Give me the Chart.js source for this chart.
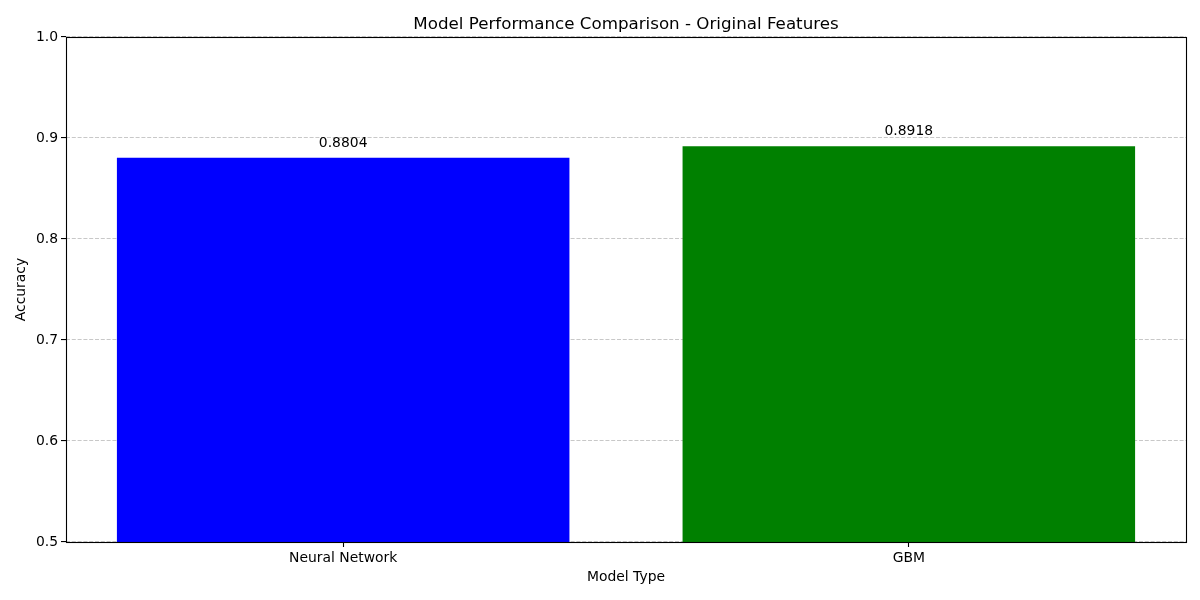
<!DOCTYPE html>
<html>
<head>
<meta charset="utf-8">
<script src="https://cdn.jsdelivr.net/npm/chart.js@4.4.1/dist/chart.umd.min.js"></script>
<style>
html,body{margin:0;padding:0;background:#fff;}
#wrap{width:1200px;height:600px;position:relative;}
</style>
</head>
<body>
<div id="wrap"><canvas id="c" width="1200" height="600"></canvas></div>
<script>
const categories = ['Neural Network', 'GBM'];
const accuracy = [0.8804, 0.8918];
const barColors = ['#0000ff', '#008000'];
const yTicks = [0.5, 0.6, 0.7, 0.8, 0.9, 1.0];

const FONT = 'DejaVu Sans';

const overlay = {
  id: 'overlay',
  afterDraw(chart) {
    const ctx = chart.ctx;
    const a = chart.chartArea;
    ctx.save();
    const meta = chart.getDatasetMeta(0);
    ctx.fillStyle = '#000';
    ctx.font = '13.9px "' + FONT + '"';
    ctx.textAlign = 'center';
    ctx.textBaseline = 'middle';
    meta.data.forEach((bar, i) => {
      ctx.fillText(accuracy[i].toFixed(4), bar.x, bar.y - 14.5);
    });
    ctx.strokeStyle = '#000';
    ctx.lineWidth = 1.1;
    ctx.strokeRect(Math.round(a.left) + 0.5, Math.round(a.top) + 0.5,
                   Math.round(a.right - a.left), Math.round(a.bottom - a.top));
    ctx.restore();
  }
};

new Chart(document.getElementById('c'), {
  type: 'bar',
  data: {
    datasets: [{
      data: accuracy.map((v, i) => ({ x: i, y: v })),
      backgroundColor: barColors,
      borderWidth: 0,
      barPercentage: 0.8,
      categoryPercentage: 1.0
    }]
  },
  options: {
    responsive: false,
    animation: false,
    devicePixelRatio: 1,
    layout: { padding: { left: 0, right: 14, top: 0, bottom: 0 } },
    plugins: {
      legend: { display: false },
      tooltip: { enabled: false },
      title: {
        display: true,
        fullSize: false,
        text: 'Model Performance Comparison - Original Features',
        color: '#000',
        font: { family: FONT, size: 16.7, weight: 'normal', lineHeight: 1.2 },
        padding: { top: 15, bottom: 2 }
      }
    },
    scales: {
      x: {
        type: 'linear',
        min: -0.49,
        max: 1.49,
        offset: false,
        afterBuildTicks(scale) { scale.ticks = categories.map((c, i) => ({ value: i })); },
        grid: {
          display: true,
          offset: false,
          drawOnChartArea: false,
          drawTicks: true,
          tickLength: 5,
          tickColor: '#000',
          tickWidth: 1.1
        },
        border: { display: false },
        ticks: {
          color: '#000',
          padding: 3,
          font: { family: FONT, size: 13.9 },
          callback: v => categories[v]
        },
        title: {
          display: true,
          text: 'Model Type',
          color: '#000',
          font: { family: FONT, size: 13.9, lineHeight: 1.2 },
          padding: { top: 0, bottom: 14.7 }
        },
        afterFit(scale) { scale.height = 58; }
      },
      y: {
        z: 1,
        min: 0.5,
        max: 1.0,
        afterBuildTicks(scale) { scale.ticks = yTicks.map(v => ({ value: v })); },
        grid: {
          color: 'rgba(176,176,176,0.7)',
          lineWidth: 1.1,
          drawTicks: true,
          tickLength: 5,
          tickColor: '#000',
          tickWidth: 1.1,
          tickBorderDash: []
        },
        border: { display: false, dash: [4, 1.8] },
        ticks: {
          color: '#000',
          padding: 3,
          font: { family: FONT, size: 13.9 },
          callback: v => Number(v).toFixed(1)
        },
        title: {
          display: true,
          text: 'Accuracy',
          color: '#000',
          font: { family: FONT, size: 13.9, lineHeight: 1.2 },
          padding: { top: 13, bottom: 0 }
        },
        afterFit(scale) { scale.width = 66; }
      }
    }
  },
  plugins: [overlay]
});
</script>
</body>
</html>
